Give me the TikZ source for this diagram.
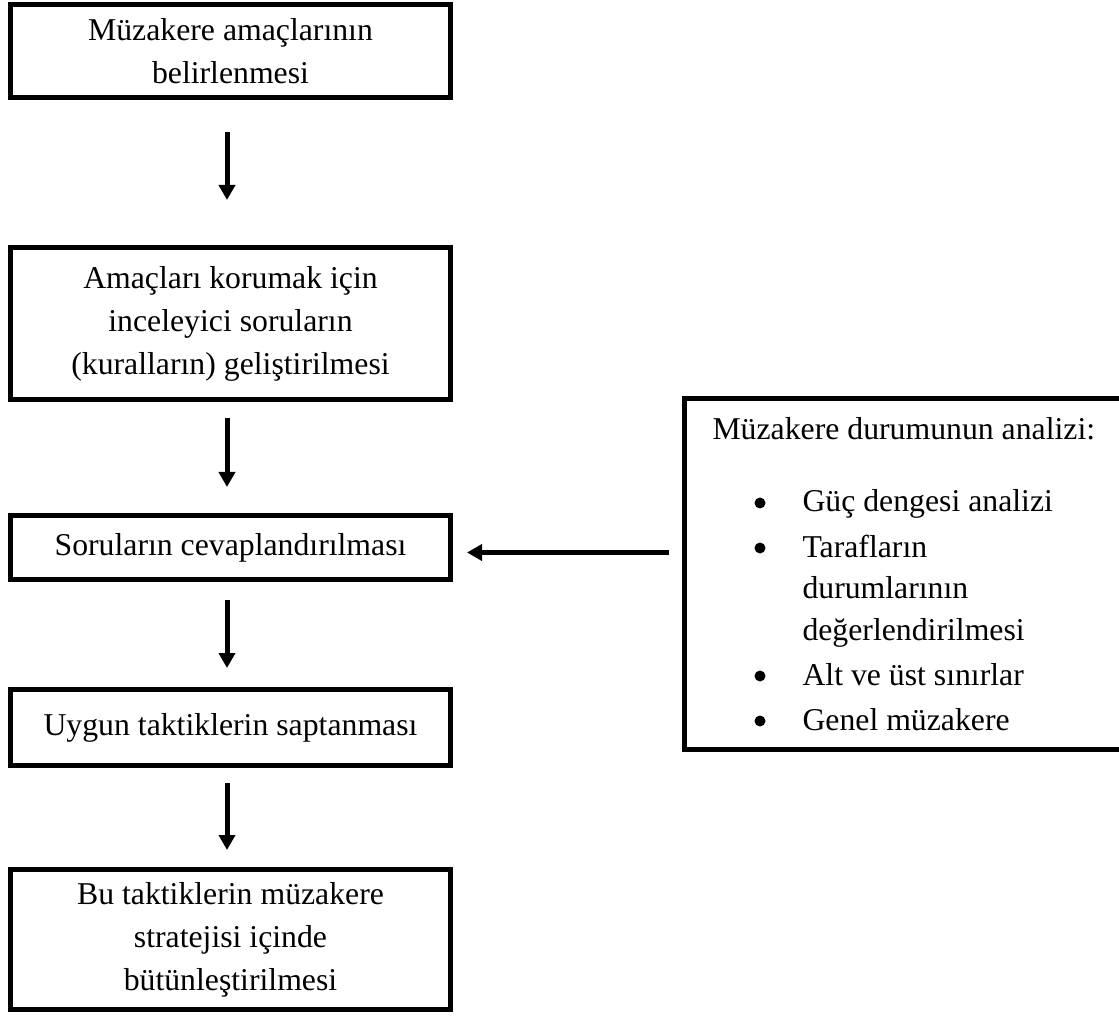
\documentclass[tikz,border=0pt]{standalone}
\usepackage{fontspec}
\setmainfont{Liberation Serif}
\usetikzlibrary{arrows.meta}

\tikzset{
  kutu/.style={draw, line width=2pt, outer sep=0pt, inner sep=0pt,
    minimum width=176pt, align=center, font=\fontsize{12.7pt}{17.2pt}\selectfont},
  ok/.style={line width=2pt, -{Triangle[width=6.4pt,length=6pt]}},
  yazi/.style={inner sep=0pt, font=\fontsize{12.7pt}{17.2pt}\selectfont},
  nokta/.style={circle, fill, inner sep=0pt, minimum size=4.4pt}
}

\begin{document}
\begin{tikzpicture}[x=0.4pt, y=-0.4pt]
  \useasboundingbox (0,0) rectangle (1119,1018);

  % left column
  \node[kutu, minimum height=37.2pt] (amac) at (230.5,51) {Müzakere amaçlarının\\belirlenmesi};
  \node[kutu, minimum height=60.8pt] (kural) at (230.5,323.5) {Amaçları korumak için\\inceleyici soruların\\(kuralların) geliştirilmesi};
  \node[kutu, minimum height=25.6pt] (soru) at (230.5,547.5) {Soruların cevaplandırılması};
  \node[kutu, minimum height=30.4pt] (taktik) at (230.5,727.5) {Uygun taktiklerin saptanması};
  \node[kutu, minimum height=56pt] (strateji) at (230.5,939.5) {Bu taktiklerin müzakere\\stratejisi içinde\\bütünleştirilmesi};

  % right box
  \node[kutu, minimum height=140.4pt] (analiz) at (904,574) {};
  \node[yazi, anchor=base west] (baslik) at (712,440) {Müzakere durumunun analizi:};
  \foreach \y/\m [count=\i] in {512/Güç dengesi analizi, 557/Tarafların, 598/durumlarının,
      640/değerlendirilmesi, 685/Alt ve üst sınırlar, 730/Genel müzakere}
    \node[yazi, anchor=base west] (madde\i) at (802,\y) {\m};
  \foreach \y [count=\i] in {512,557,685,730}
    \node[nokta] (nokta\i) at (760,\y-9) {};

  % arrows
  \draw[ok, shorten <=13.8pt, shorten >=19pt] ([xshift=-1.4pt]amac.south) -- ([xshift=-1.4pt]kural.north);
  \draw[ok, shorten <=7.4pt, shorten >=11.4pt] ([xshift=-1.4pt]kural.south) -- ([xshift=-1.4pt]soru.north);
  \draw[ok, shorten <=8.2pt, shorten >=8.6pt] ([xshift=-1.4pt]soru.south) -- ([xshift=-1.4pt]taktik.north);
  \draw[ok, shorten <=7pt, shorten >=7.8pt] ([xshift=-1.4pt]taktik.south) -- ([xshift=-1.4pt]strateji.north);
  \draw[ok, shorten <=6pt, shorten >=6.6pt] ([yshift=-2pt]soru.east -| analiz.west) -- ([yshift=-2pt]soru.east);
\end{tikzpicture}
\end{document}
